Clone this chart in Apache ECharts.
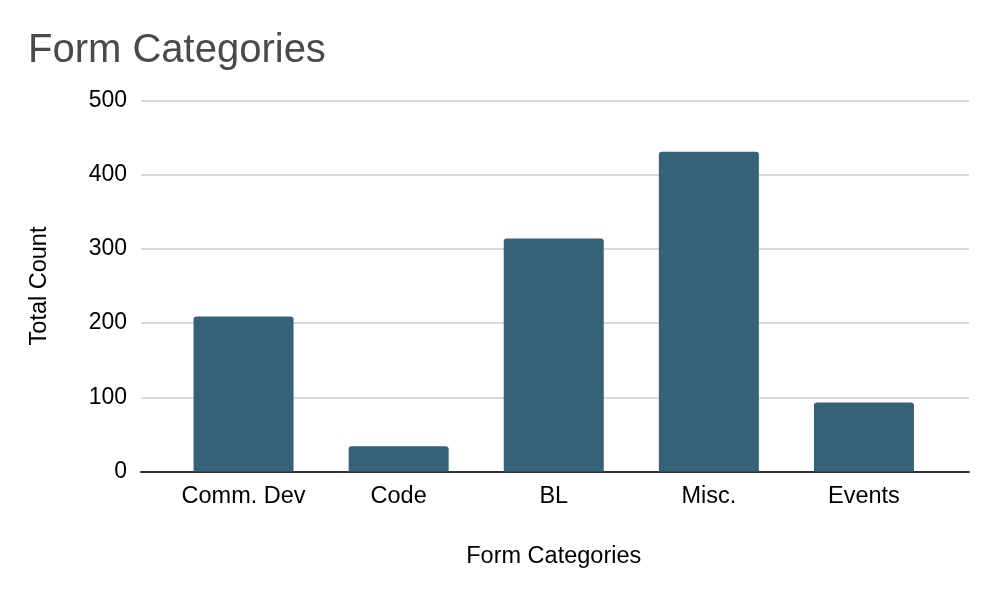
<!DOCTYPE html>
<html lang="en">
  <head>
    <meta charset="UTF-8" />
    <title>Form Categories</title>
    <script src="https://cdn.jsdelivr.net/npm/echarts@6.0.0/dist/echarts.min.js"></script>
    <style>
      html, body { margin: 0; padding: 0; background: #fff; }
      #main { width: 992px; height: 596px; }
    </style>
  </head>
  <body>
    <div id="main"></div>

    <script>
      const categories = ['Comm. Dev', 'Code', 'BL', 'Misc.', 'Events'];
      const totalCount = [209, 34, 314, 431, 93];
      const yTicks = [0, 100, 200, 300, 400, 500];

      const font = '"Liberation Sans", Arial, Helvetica, sans-serif';
      const barColor = '#356278';

      const yMin = yTicks[0];
      const yMax = yTicks[yTicks.length - 1];
      const yStep = yTicks[1] - yTicks[0];

      const options = {
        backgroundColor: '#fff',
        animation: false,
        title: {
          text: 'Form Categories',
          left: 23,
          top: 26,
          textStyle: {
            fontFamily: font,
            fontSize: 40,
            fontWeight: 'normal',
            color: '#4a4a4a',
          },
        },
        grid: [
          // gridlines + baseline span the full plot width
          { left: 141, right: 23, top: 100.5, bottom: 124.5, outerBoundsMode: 'none' },
          // bars sit a bit inset, like the source chart
          { left: 166, right: 50.5, top: 100.5, bottom: 124.5, outerBoundsMode: 'none' },
        ],
        xAxis: [
          {
            type: 'category',
            gridIndex: 0,
            data: categories,
            axisLine: { lineStyle: { color: '#333', width: 2 } },
            axisTick: { show: false },
            axisLabel: { show: false },
            splitLine: { show: false },
          },
          {
            type: 'category',
            gridIndex: 1,
            data: categories,
            name: 'Form Categories',
            nameLocation: 'middle',
            nameGap: 73,
            nameTextStyle: { fontFamily: font, fontSize: 23.5, color: '#000' },
            axisLine: { show: false },
            axisTick: { show: false },
            axisLabel: {
              interval: 0,
              margin: 13,
              fontFamily: font,
              fontSize: 23.5,
              color: '#000',
            },
          },
        ],
        yAxis: [
          {
            type: 'value',
            gridIndex: 0,
            min: yMin,
            max: yMax,
            interval: yStep,
            name: 'Total Count',
            nameLocation: 'middle',
            nameGap: 89,
            nameTextStyle: { fontFamily: font, fontSize: 23.5, color: '#000' },
            axisLine: { show: false },
            axisTick: { show: false },
            axisLabel: {
              margin: 14,
              fontFamily: font,
              fontSize: 23,
              color: '#000',
            },
            splitLine: { lineStyle: { color: '#cccccc', width: 1.5 } },
          },
          {
            type: 'value',
            gridIndex: 1,
            min: yMin,
            max: yMax,
            interval: yStep,
            show: false,
            splitLine: { show: false },
          },
        ],
        series: [
          {
            name: 'Total Count',
            type: 'bar',
            xAxisIndex: 1,
            yAxisIndex: 1,
            data: totalCount,
            barWidth: 100,
            itemStyle: { color: barColor, borderRadius: [3, 3, 0, 0] },
          },
        ],
      };

      var myChart = echarts.init(document.querySelector('#main'));
      myChart.setOption(options);

      window.onresize = function () {
        myChart.resize();
      };
    </script>
  </body>
</html>
